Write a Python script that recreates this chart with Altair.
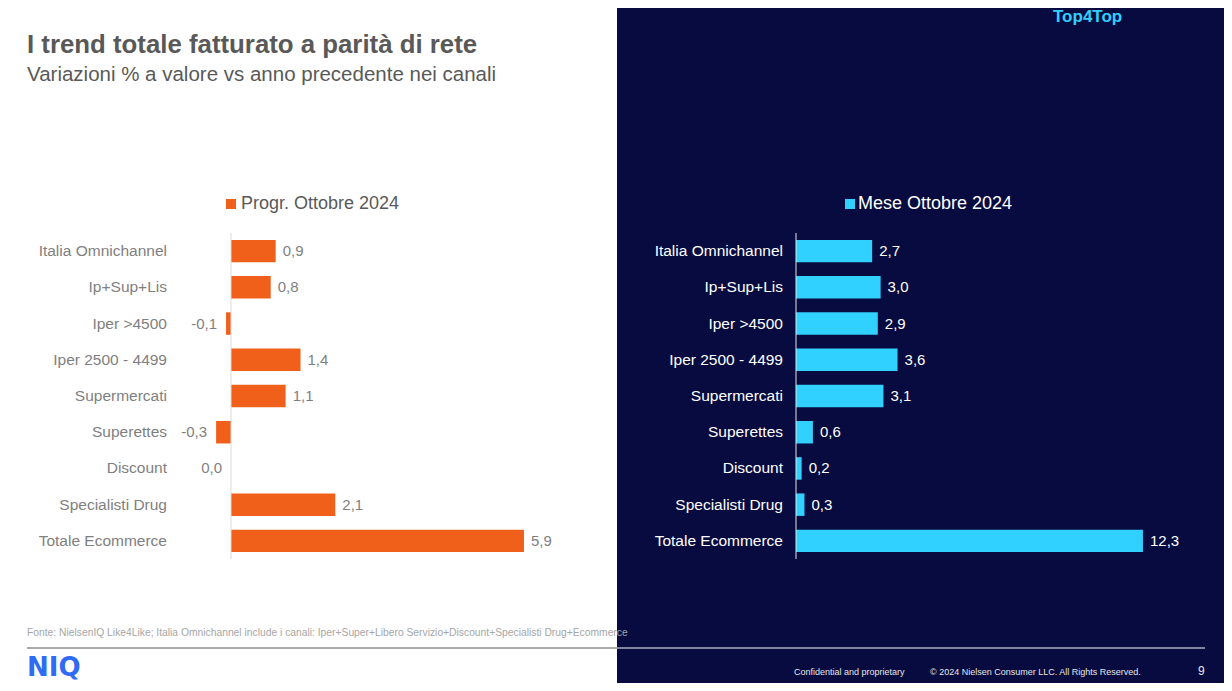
import altair as alt
import pandas as pd

# ---- data ----
categories = ["Italia Omnichannel", "Ip+Sup+Lis", "Iper >4500", "Iper 2500 - 4499",
              "Supermercati", "Superettes", "Discount", "Specialisti Drug", "Totale Ecommerce"]
progr_values = [0.9, 0.8, -0.1, 1.4, 1.1, -0.3, 0.0, 2.1, 5.9]
mese_values = [2.7, 3.0, 2.9, 3.6, 3.1, 0.6, 0.2, 0.3, 12.3]

title_text = "I trend totale fatturato a parità di rete"
subtitle_text = "Variazioni % a valore vs anno precedente nei canali"
legend_left = "Progr. Ottobre 2024"
legend_right = "Mese Ottobre 2024"
source_text = ("Fonte: NielsenIQ Like4Like; Italia Omnichannel include i canali: "
               "Iper+Super+Libero Servizio+Discount+Specialisti Drug+Ecommerce")
brand_text = "Top4Top"
logo_text = "NIQ"
conf_text = "Confidential and proprietary"
copy_text = "© 2024 Nielsen Consumer LLC. All Rights Reserved."
page_text = "9"

FONT = "Liberation Sans"
ORANGE = "#F0601A"
CYAN = "#30D0FF"
NAVY = "#070B40"
GRAY = "#7F7F7F"
DARKGRAY = "#595959"

def fmt(v):
    return f"{v:.1f}".replace(".", ",").replace("-0,0", "0,0")

df = pd.DataFrame({
    "cat": categories,
    "progr": progr_values,
    "mese": mese_values,
    "progr_lbl": [fmt(v) for v in progr_values],
    "mese_lbl": [fmt(v) for v in mese_values],
})
df_pos = df[df["progr"] > 0]
df_neg = df[df["progr"] <= 0]

W, H = 1216, 675

yscale = alt.Scale(domain=categories, range=[225, 551], paddingInner=0.379, paddingOuter=0.19)
xl_scale = alt.Scale(domain=[-1, 6], range=[173.34, 520.96], nice=False, zero=False)
xr_scale = alt.Scale(domain=[0, 13], range=[788, 1154.7], nice=False, zero=False)

Y = alt.Y("cat:N", scale=yscale, axis=None, sort=categories)


def txt(t, x, y, size, color, bold=False, align="left", font=FONT, baseline="middle"):
    return alt.Chart(pd.DataFrame({"t": [t]})).mark_text(
        align=align, baseline=baseline, font=font, fontSize=size,
        fontWeight="bold" if bold else "normal", color=color
    ).encode(x=alt.value(x), y=alt.value(y), text="t:N")


def box(x, x2, y, y2, color):
    return alt.Chart(pd.DataFrame({"a": [0]})).mark_rect(color=color).encode(
        x=alt.value(x), x2=alt.value(x2), y=alt.value(y), y2=alt.value(y2))


def hline(x, x2, y, color, w=1):
    return alt.Chart(pd.DataFrame({"a": [0]})).mark_rule(color=color, strokeWidth=w).encode(
        x=alt.value(x), x2=alt.value(x2), y=alt.value(y))


base = alt.Chart(df)

# background panel
navy = box(609, W, 0, H, NAVY)

# left chart
left_axis = alt.Chart(pd.DataFrame({"z": [0]})).mark_rule(color="#D9D9D9", strokeWidth=1).encode(
    x=alt.X("z:Q", scale=xl_scale, axis=None), y=alt.value(225), y2=alt.value(551))
left_bars = base.mark_bar(color=ORANGE).encode(
    x=alt.X("progr:Q", scale=xl_scale, axis=None), x2=alt.datum(0), y=Y)
left_pos_lbl = alt.Chart(df_pos).mark_text(align="left", baseline="middle", dx=7, font=FONT,
                                           fontSize=15, color=GRAY).encode(
    x=alt.X("progr:Q", scale=xl_scale, axis=None), y=Y, text="progr_lbl:N")
left_neg_lbl = alt.Chart(df_neg).mark_text(align="right", baseline="middle", dx=-9, font=FONT,
                                           fontSize=15, color=GRAY).encode(
    x=alt.X("progr:Q", scale=xl_scale, axis=None), y=Y, text="progr_lbl:N")
left_cats = base.mark_text(align="right", baseline="middle", font=FONT, fontSize=15.5,
                           color=GRAY).encode(x=alt.value(159), y=Y, text="cat:N")

# right chart
right_axis = alt.Chart(pd.DataFrame({"z": [0]})).mark_rule(color="#E6E6E6", strokeWidth=1).encode(
    x=alt.X("z:Q", scale=xr_scale, axis=None), y=alt.value(225), y2=alt.value(551))
right_bars = base.mark_bar(color=CYAN).encode(
    x=alt.X("mese:Q", scale=xr_scale, axis=None), x2=alt.datum(0), y=Y)
right_lbl = base.mark_text(align="left", baseline="middle", dx=7, font=FONT,
                           fontSize=15, color="white").encode(
    x=alt.X("mese:Q", scale=xr_scale, axis=None), y=Y, text="mese_lbl:N")
right_cats = base.mark_text(align="right", baseline="middle", font=FONT, fontSize=15.5,
                            color="white").encode(x=alt.value(775), y=Y, text="cat:N")

layers = [
    navy,
    txt(title_text, 19, 37, 25.8, DARKGRAY, bold=True),
    txt(subtitle_text, 19, 67, 20.5, DARKGRAY),
    txt(brand_text, 1045, 9, 17, CYAN, bold=True),
    box(218, 228, 191, 201, ORANGE),
    txt(legend_left, 233, 196, 18, DARKGRAY),
    box(837, 847, 191, 201, CYAN),
    txt(legend_right, 850, 196, 18, "white"),
    left_bars, left_axis, left_pos_lbl, left_neg_lbl, left_cats,
    right_bars, right_axis, right_lbl, right_cats,
    txt(source_text, 19, 625, 10.3, "#A6A6A6"),
    hline(19, 609, 640, DARKGRAY),
    hline(609, 1197, 640, "white"),
    txt(logo_text, 19, 660, 26, "#2F6BF5", bold=True, font="DejaVu Sans"),
    txt(conf_text, 786, 664, 9, "#E6E6E6"),
    txt(copy_text, 922, 664, 9, "#E6E6E6"),
    txt(page_text, 1190, 663, 12, "#E6E6E6"),
]

chart = alt.layer(*layers).resolve_scale(x="independent").properties(
    width=W, height=H, autosize=alt.AutoSizeParams(type="none"), padding=0,
    background="white"
).configure_view(stroke=None)

chart.save("out.html", embed_options={"renderer": "svg", "actions": False})
